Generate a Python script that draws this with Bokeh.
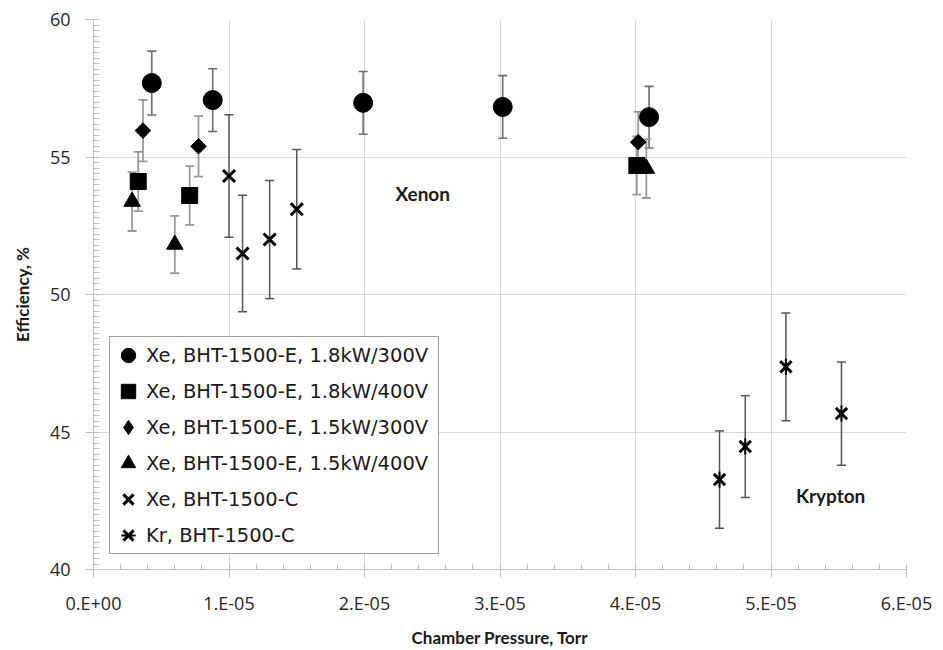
import numpy as np
from bokeh.plotting import figure
from bokeh.models import (ColumnDataSource, Whisker, TeeHead, Range1d, FixedTicker,
                          CustomJSTickFormatter, Legend, LegendItem)
from bokeh.embed import file_html
from bokeh.resources import INLINE
from bokeh.core.properties import value

# ---------------- data ----------------
# Xe, BHT-1500-E, 1.8kW/300V (circles)
c_x = [4.3e-6, 8.8e-6, 1.99e-5, 3.02e-5, 4.10e-5]
c_y = [57.69, 57.07, 56.97, 56.82, 56.45]
c_err = [1.16, 1.14, 1.14, 1.14, 1.12]

# Xe, BHT-1500-E, 1.8kW/400V (squares)
s_x = [3.3e-6, 7.1e-6, 4.01e-5]
s_y = [54.11, 53.60, 54.69]
s_err = [1.08, 1.07, 1.06]

# Xe, BHT-1500-E, 1.5kW/300V (diamonds)
d_x = [3.65e-6, 7.75e-6, 4.02e-5]
d_y = [55.96, 55.39, 55.54]
d_err = [1.12, 1.10, 1.10]

# Xe, BHT-1500-E, 1.5kW/400V (triangles)
t_x = [2.85e-6, 6.0e-6, 4.08e-5]
t_y = [53.38, 51.82, 54.58]
t_err = [1.07, 1.04, 1.07]

# Xe, BHT-1500-C (x)
xc_x = [1.0e-5, 1.1e-5, 1.3e-5, 1.5e-5]
xc_y = [54.31, 51.49, 52.00, 53.10]
xc_err = [2.23, 2.12, 2.15, 2.17]

# Kr, BHT-1500-C (star)
kr_x = [4.62e-5, 4.81e-5, 5.11e-5, 5.52e-5]
kr_y = [43.27, 44.47, 47.37, 45.67]
kr_err = [1.77, 1.85, 1.96, 1.88]

series_labels = ["Xe, BHT-1500-E, 1.8kW/300V", "Xe, BHT-1500-E, 1.8kW/400V",
                 "Xe, BHT-1500-E, 1.5kW/300V", "Xe, BHT-1500-E, 1.5kW/400V",
                 "Xe, BHT-1500-C", "Kr, BHT-1500-C"]

x_ticks = [0.0, 1e-5, 2e-5, 3e-5, 4e-5, 5e-5, 6e-5]
x_tick_labels = ["0.E+00", "1.E-05", "2.E-05", "3.E-05", "4.E-05", "5.E-05", "6.E-05"]
y_ticks = [40, 45, 50, 55, 60]

ann_x = [2.43e-5, 5.44e-5]
ann_y = [53.68, 42.69]
ann_text = ["Xenon", "Krypton"]

# ---------------- figure ----------------
p = figure(width=943, height=650, x_range=Range1d(0, 6e-5), y_range=Range1d(40, 60),
           output_backend="svg", toolbar_location=None,
           min_border_left=93, min_border_right=37, min_border_top=19, min_border_bottom=80)
p.outline_line_color = None
p.background_fill_color = "white"
p.border_fill_color = "white"

axis_col = "#bfbfbf"
grid_col = "#d9d9d9"

x_minor = [i * 2e-6 for i in range(31)]
y_minor = [40 + i * 0.2 for i in range(101)]

p.xaxis.ticker = FixedTicker(ticks=x_ticks, minor_ticks=x_minor)
p.xaxis.formatter = CustomJSTickFormatter(args=dict(labels=x_tick_labels), code="return labels[index];")
p.yaxis.ticker = FixedTicker(ticks=y_ticks, minor_ticks=y_minor)
p.xgrid.ticker = FixedTicker(ticks=x_ticks)
p.ygrid.ticker = FixedTicker(ticks=y_ticks)
p.xgrid.grid_line_color = grid_col
p.ygrid.grid_line_color = grid_col

for ax in (p.xaxis, p.yaxis):
    ax.axis_line_color = axis_col
    ax.major_tick_line_color = axis_col
    ax.minor_tick_line_color = axis_col
    ax.major_tick_in = 0
    ax.major_tick_out = 8
    ax.minor_tick_out = 0
    ax.major_label_text_font = "Open Sans"
    ax.major_label_text_font_size = "18px"
    ax.major_label_text_color = "#262626"
    ax.axis_label_text_font = "Lato"
    ax.axis_label_text_font_style = "bold"
    ax.axis_label_text_font_size = "17px"
    ax.axis_label_text_color = "#1a1a1a"

p.xaxis.minor_tick_in = 5
p.yaxis.minor_tick_in = 6
p.xaxis.major_label_standoff = 13
p.xaxis.axis_label_standoff = 9
p.yaxis.major_label_standoff = 15
p.yaxis.axis_label_standoff = 14
p.xaxis.axis_label = "Chamber Pressure, Torr"
p.yaxis.axis_label = "Efficiency, %"


def bars(xs, ys, errs, color, width):
    ys = np.array(ys)
    errs = np.array(errs)
    src = ColumnDataSource(dict(x=xs, upper=ys + errs, lower=ys - errs))
    w = Whisker(base="x", upper="upper", lower="lower", source=src, dimension="height",
                line_color=color, line_width=width, level="underlay",
                upper_head=TeeHead(size=9, line_color=color, line_width=width),
                lower_head=TeeHead(size=9, line_color=color, line_width=width))
    p.add_layout(w)


bars(c_x, c_y, c_err, "#6e6e6e", 1.6)
bars(s_x, s_y, s_err, "#9a9a9a", 1.8)
bars(d_x, d_y, d_err, "#9a9a9a", 1.8)
bars(t_x, t_y, t_err, "#9a9a9a", 1.8)
bars(xc_x, xc_y, xc_err, "#555555", 1.5)
bars(kr_x, kr_y, kr_err, "#555555", 1.5)

blk = "#000000"
r_c = p.scatter(c_x, c_y, marker="circle", size=19, fill_color=blk, line_color=blk)
r_s = p.scatter(s_x, s_y, marker="square", size=16, fill_color=blk, line_color=blk)
r_dh = p.scatter(d_x, d_y, marker="diamond", size=14, fill_color=blk, line_color=blk)
r_d = p.scatter(d_x, d_y, marker="square", angle=np.pi / 4, size=11, fill_color=blk, line_color=blk)
r_t = p.scatter(t_x, t_y, marker="triangle", size=16.5, fill_color=blk, line_color=blk)
r_x = p.scatter(xc_x, xc_y, marker="x", size=17, line_color=blk, line_width=3)
r_k1 = p.scatter(kr_x, kr_y, marker="x", size=16, line_color=blk, line_width=3)
r_k2 = p.scatter(kr_x, kr_y, marker="dash", angle=np.pi / 2, size=16, line_color=blk, line_width=2)

p.text(x=ann_x, y=ann_y, text=ann_text, text_font=value("Lato"), text_font_style="bold",
       text_font_size="19px", text_align="center", text_baseline="middle", text_color="#1a1a1a")

legend = Legend(items=[
    LegendItem(label=series_labels[0], renderers=[r_c]),
    LegendItem(label=series_labels[1], renderers=[r_s]),
    LegendItem(label=series_labels[2], renderers=[r_dh]),
    LegendItem(label=series_labels[3], renderers=[r_t]),
    LegendItem(label=series_labels[4], renderers=[r_x]),
    LegendItem(label=series_labels[5], renderers=[r_k1, r_k2]),
], location=(16, 15))
legend.margin = 0
legend.padding = 0
legend.spacing = -1
legend.glyph_width = 36
legend.glyph_height = 36
legend.label_standoff = -5
legend.label_width = 292
legend.label_text_font = "DejaVu Sans"
legend.label_text_font_size = "19.5px"
legend.label_text_color = "#1a1a1a"
legend.border_line_color = "#404040"
legend.border_line_width = 1
legend.background_fill_color = "white"
legend.background_fill_alpha = 1.0
p.add_layout(legend)

open("out.html", "w").write(file_html(p, INLINE))
